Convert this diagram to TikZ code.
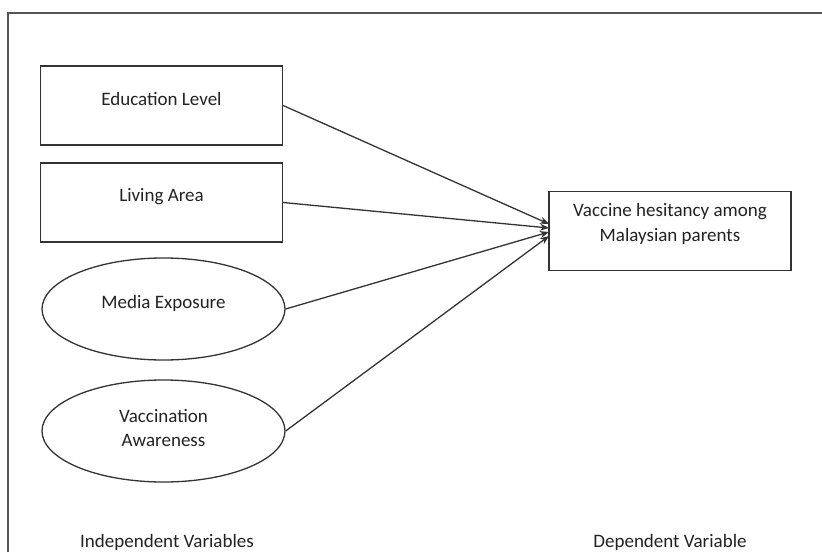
\documentclass[tikz,border=0pt]{standalone}
\usepackage{fontspec}
\setmainfont{Carlito}
\usetikzlibrary{arrows.meta,shapes.geometric}
\definecolor{edge}{HTML}{333333}
\definecolor{txt}{HTML}{222222}
\definecolor{frame}{HTML}{555555}
\begin{document}
\begin{tikzpicture}[x=1pt,y=-1pt,
  font=\fontsize{19}{24.5}\selectfont, text=txt,
  varbox/.style={draw=edge, line width=1.3pt, rectangle, inner sep=0pt, minimum width=242pt, minimum height=79pt},
  varoval/.style={draw=edge, line width=1.3pt, ellipse, inner sep=0pt, minimum width=243pt, minimum height=102pt},
  lbl/.style={align=center, inner sep=0pt},
  link/.style={draw=edge, line width=1.3pt, -{Stealth[length=9pt,width=7pt]}}]
\useasboundingbox (0,0) rectangle (822,552);
% outer frame
\draw[frame, line width=1.6pt] (8,552) -- (8,13) -- (822,13);
% independent variables
\node[varbox] (edu) at (161.5,105.5) {};
\node[lbl] (edut) at (161.5,99) {Education Level};
\node[varbox] (liv) at (161.5,202.5) {};
\node[lbl] (livt) at (161.5,197) {Living Area};
\node[varoval] (med) at (163.5,309) {};
\node[lbl] (medt) at (163.5,303) {Media Exposure};
\node[varoval] (vac) at (163.5,431) {};
\node[lbl] (vact) at (163.5,428) {Vaccination\\Awareness};
% dependent variable
\node[varbox] (dep) at (670,231) {};
\node[lbl] (dept) at (670,224) {Vaccine hesitancy among\\Malaysian parents};
% arrow end points
\coordinate (e1) at (549,224);
\coordinate (e2) at (549,228);
\coordinate (e3) at (549,232);
\coordinate (e4) at (549,236);
\draw[link] (edu.east) -- (e1);
\draw[link] (liv.east) -- (e2);
\draw[link] (med.east) -- (e3);
\draw[link] (vac.east) -- (e4);
% captions
\node[lbl] (indep) at (167,542) {Independent Variables};
\node[lbl] (depv) at (670,542) {Dependent Variable};
\end{tikzpicture}
\end{document}
